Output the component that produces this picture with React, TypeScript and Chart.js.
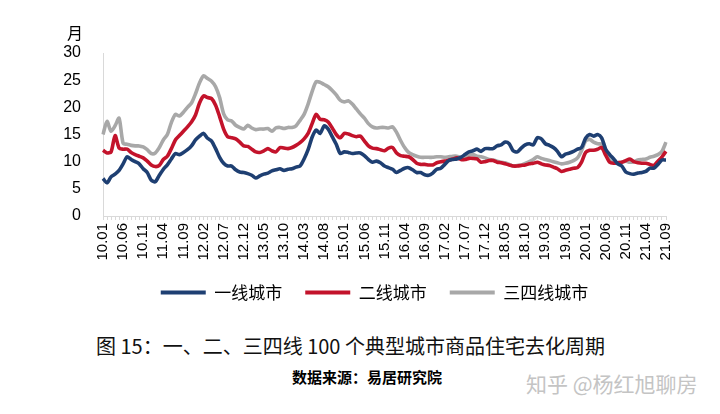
import { useEffect, useRef } from "react";
import { Chart, registerables } from "chart.js";

Chart.register(...registerables);

// Monthly categories 10.01 ... 21.09
const months: string[] = [];
for (let y = 10; y <= 21; y++) {
  for (let m = 1; m <= 12; m++) {
    if (y === 21 && m > 9) break;
    months.push(`${y}.${String(m).padStart(2, "0")}`);
  }
}

const seriesNames = ["一线城市", "二线城市", "三四线城市"];

const tier1 = [
  6.9, 6.1, 7.2, 7.7, 8.4, 9.6, 10.9, 10.4, 10.0, 9.6,
  8.7, 8.0, 6.6, 6.3, 7.5, 8.6, 9.4, 10.5, 11.5, 11.3,
  11.7, 12.2, 12.9, 14.0, 14.7, 15.2, 14.3, 13.8, 12.4, 10.8,
  9.7, 9.2, 9.2, 8.5, 8.1, 8.0, 7.8, 7.5, 7.0, 7.4,
  7.7, 7.9, 8.3, 8.5, 8.7, 8.4, 8.6, 8.7, 9.0, 9.2,
  10.5, 12.2, 14.5, 15.8, 15.2, 16.6, 16.0, 14.6, 13.2, 11.5,
  11.8, 11.7, 11.5, 11.6, 11.6, 11.1, 10.4, 9.9, 10.1, 9.8,
  9.2, 8.9, 8.6, 8.0, 8.4, 8.8, 8.9, 8.5, 8.0, 8.0,
  7.6, 7.5, 7.9, 8.6, 8.8, 9.5, 10.2, 10.4, 10.5, 10.8,
  11.3, 11.8, 12.0, 12.3, 11.9, 12.4, 12.4, 12.4, 12.9, 13.1,
  13.6, 13.3, 12.0, 11.8, 12.5, 13.1, 13.3, 13.1, 14.4, 14.2,
  13.3, 13.0, 12.6, 11.9, 10.9, 11.4, 11.6, 11.9, 12.3, 12.6,
  14.3, 15.0, 14.7, 15.0, 14.4, 12.3, 11.3, 10.5, 9.6, 9.2,
  8.1, 7.8, 7.7, 7.9, 8.0, 8.2, 8.8, 8.8, 9.5, 10.3,
  10.3,
];

const tier2 = [
  12.1, 11.6, 11.8, 14.8, 12.5, 12.3, 12.3, 11.7, 11.3, 11.0,
  10.7, 10.1, 9.4, 9.1, 9.3, 10.4, 11.0, 12.4, 14.0, 14.8,
  15.6, 16.4, 17.3, 18.6, 20.8, 22.1, 21.8, 21.6, 20.4, 18.3,
  16.0, 14.6, 14.4, 14.2, 13.6, 12.9, 12.8, 12.3, 11.8, 11.7,
  12.0, 12.4, 12.0, 11.8, 12.6, 12.5, 12.4, 12.6, 13.0, 13.5,
  14.2, 15.2, 17.0, 18.7, 17.8, 17.7, 17.3, 16.2, 15.0, 14.4,
  15.2, 15.1, 14.8, 14.6, 14.7, 13.8, 12.9, 12.5, 12.4, 12.2,
  12.0, 12.5, 12.6, 11.6, 11.1, 11.0, 10.9, 10.4, 9.7, 9.5,
  9.5, 9.4, 9.4, 9.8, 10.0, 10.1, 10.3, 10.5, 10.7, 10.4,
  10.4, 10.6, 10.6, 10.5, 9.9, 10.0, 10.2, 10.2, 9.9, 9.8,
  9.6, 9.4, 9.2, 9.2, 9.3, 9.4, 9.6, 9.7, 9.9, 9.6,
  9.4, 9.3, 9.0, 8.7, 8.2, 8.4, 8.6, 8.8, 8.9, 9.9,
  11.7, 12.1, 12.1, 12.3, 12.6, 11.2, 9.9, 9.7, 9.8, 9.9,
  10.2, 10.5, 10.0, 9.8, 9.7, 9.7, 9.5, 9.3, 10.1, 10.9,
  11.9,
];

const tier34 = [
  15.0, 17.4, 15.6, 16.6, 18.0, 13.4, 13.2, 13.0, 12.9, 12.9,
  12.7, 12.2, 11.5, 11.6, 12.6, 14.0, 15.0, 17.2, 18.7, 18.4,
  19.1, 20.0, 20.8, 22.5, 24.5, 25.8, 25.3, 24.8, 23.8, 21.8,
  18.8, 17.7, 17.5, 16.7, 16.3, 16.0, 16.7, 16.2, 15.9, 16.0,
  16.0, 16.1, 15.6, 16.2, 16.3, 16.1, 16.3, 16.3, 16.6, 17.6,
  18.7, 20.6, 22.9, 24.7, 24.6, 24.2, 23.8, 23.1, 22.3, 21.3,
  21.0, 21.2, 20.6, 19.7, 18.8, 18.0, 17.0, 16.4, 16.2, 16.3,
  16.3, 16.2, 16.4, 15.4, 13.9, 12.6, 11.7, 11.3, 11.0, 10.8,
  10.8, 10.8, 10.8, 10.9, 10.9, 10.8, 10.9, 11.0, 11.0, 10.8,
  10.9, 11.2, 11.3, 11.0, 10.9, 10.7, 10.4, 10.3, 10.1, 9.9,
  9.8, 9.5, 9.2, 9.3, 9.4, 9.7, 10.0, 10.4, 10.9, 10.6,
  10.4, 10.2, 10.0, 9.8, 9.6, 9.7, 9.9, 10.2, 10.7, 12.0,
  13.8, 14.1, 13.6, 13.3, 13.2, 11.6, 10.3, 9.8, 9.8, 9.9,
  10.1, 9.9, 10.0, 10.3, 10.4, 10.5, 10.8, 11.0, 11.3, 11.9,
  13.6,
];

const yMin = 0;
const yMax = 30;
const yStep = 5;

const BLUE = "#1E3F72";
const RED = "#C3132B";
const GRAY = "#A8A8A8";
const AXIS = "#D9D9D9";
const LATIN = "'Liberation Sans', Arial, sans-serif";
const CJK = "'Noto Sans CJK SC', 'Liberation Sans', sans-serif";

export default function App() {
  const ref = useRef<HTMLCanvasElement | null>(null);

  useEffect(() => {
    if (!ref.current) return;
    const mk = (label: string, data: number[], color: string) => ({
      label,
      data,
      borderColor: color,
      backgroundColor: color,
      borderWidth: 3.6,
      pointRadius: 0,
      tension: 0.25,
      fill: false,
      yAxisID: "y",
    });
    const chart = new Chart(ref.current, {
      type: "line",
      data: {
        labels: months,
        datasets: [
          mk(seriesNames[0], tier1, BLUE),
          mk(seriesNames[1], tier2, RED),
          mk(seriesNames[2], tier34, GRAY),
        ],
      },
      options: {
        responsive: false,
        animation: false,
        devicePixelRatio: 1,
        layout: { padding: { top: 53, left: 63, right: 34, bottom: 19 } },
        plugins: {
          tooltip: { enabled: false },
          legend: {
            position: "bottom",
            labels: {
              boxWidth: 45,
              boxHeight: 4,
              padding: 23,
              color: "#000",
              font: { family: CJK, size: 17 },
              generateLabels: (c: any) =>
                Chart.defaults.plugins.legend.labels
                  .generateLabels(c)
                  .map((l: any) => ({ ...l, lineWidth: 0 })),
            },
          },
        },
        scales: {
          x: {
            grid: {
              drawOnChartArea: false,
              drawTicks: true,
              tickLength: 4,
              color: AXIS,
            },
            border: { color: AXIS, width: 1 },
            ticks: {
              autoSkip: false,
              maxRotation: 90,
              minRotation: 90,
              padding: 3,
              color: "#000",
              font: { family: LATIN, size: 15 },
              callback: (_v: any, i: number) => (i % 5 === 0 ? months[i] : ""),
            },
            afterFit: (s: any) => {
              s.height = 45;
            },
          },
          y: {
            min: yMin,
            max: yMax,
            grid: { drawOnChartArea: false, drawTicks: false },
            border: { color: AXIS, width: 1 },
            ticks: {
              stepSize: yStep,
              padding: 22,
              color: "#000",
              font: { family: LATIN, size: 16 },
            },
            afterFit: (s: any) => {
              s.width = 40;
            },
          },
          yr: {
            position: "right",
            display: true,
            grid: { display: false, drawTicks: false },
            border: { display: false },
            ticks: { display: false },
            afterFit: (s: any) => {
              s.width = 20;
            },
          },
        },
      },
    } as any);
    return () => chart.destroy();
  }, []);

  return (
    <div
      style={{
        position: "fixed",
        left: 0,
        top: 0,
        width: 720,
        height: 414,
        background: "#fff",
        overflow: "hidden",
      }}
    >
      <canvas
        ref={ref}
        width={720}
        height={330}
        style={{ position: "absolute", left: 0, top: 0, width: 720, height: 330 }}
      />
      <div
        style={{
          position: "absolute",
          left: 67,
          top: 24,
          fontFamily: CJK,
          fontSize: 16,
          lineHeight: "16px",
          color: "#000",
        }}
      >
        月
      </div>
      <div
        style={{
          position: "absolute",
          left: 96,
          top: 336,
          fontFamily: CJK,
          fontSize: 20,
          lineHeight: "20px",
          color: "#111",
          whiteSpace: "nowrap",
        }}
      >
        图 15：一、二、三四线 100 个典型城市商品住宅去化周期
      </div>
      <div
        style={{
          position: "absolute",
          left: 292,
          top: 369,
          fontFamily: CJK,
          fontSize: 15,
          fontWeight: 700,
          lineHeight: "15px",
          color: "#000",
          whiteSpace: "nowrap",
        }}
      >
        数据来源：易居研究院
      </div>
      <div
        style={{
          position: "absolute",
          left: 526,
          top: 373,
          fontFamily: CJK,
          fontSize: 21,
          lineHeight: "21px",
          color: "#C4C4C4",
          whiteSpace: "nowrap",
        }}
      >
        知乎 @杨红旭聊房
      </div>
    </div>
  );
}
